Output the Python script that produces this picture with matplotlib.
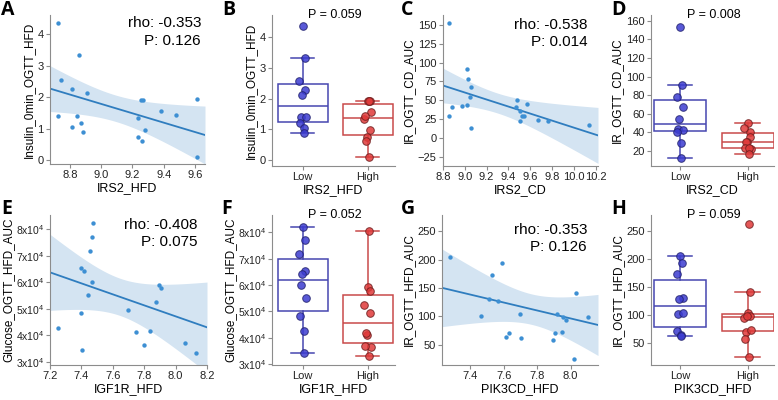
import numpy as np
import matplotlib
matplotlib.use("Agg")
import matplotlib.pyplot as plt
from matplotlib.ticker import FuncFormatter

plt.rcParams['font.family'] = ['Liberation Sans', 'DejaVu Sans']
plt.rcParams['mathtext.fontset'] = 'custom'
plt.rcParams['mathtext.rm'] = 'Liberation Sans'
plt.rcParams['mathtext.it'] = 'Liberation Sans'

# values (one row per mouse, 20 mice)
irs2_hfd = [8.725, 8.855, 8.741, 8.813, 8.909, 8.725, 8.847, 8.868, 8.811, 8.881,
            9.252, 9.266, 9.234, 9.281, 9.237, 9.264, 9.383, 9.479, 9.610, 9.612]
insulin_0min = [4.37, 3.33, 2.56, 2.27, 2.12, 1.41, 1.40, 1.19, 1.05, 0.89,
                1.91, 1.92, 1.33, 0.97, 0.74, 0.60, 1.57, 1.42, 1.93, 0.09]

irs2_cd = [8.858, 9.024, 9.027, 9.058, 9.043, 9.021, 8.978, 8.886, 8.855, 9.058,
           9.476, 9.466, 9.568, 9.510, 9.525, 9.544, 9.510, 9.669, 9.765, 10.14]
ir_cd_auc = [153, 91, 78, 67, 54, 44, 42.5, 40.7, 28.8, 12.8,
             50, 41, 44.7, 35.4, 29.6, 29.6, 22.6, 23.5, 23, 16.8]

igf1r_hfd = [7.472, 7.465, 7.455, 7.398, 7.415, 7.465, 7.440, 7.400, 7.253, 7.402,
             7.895, 7.907, 7.874, 7.697, 7.745, 7.834, 7.800, 8.063, 8.131, 7.800]
glucose_auc = [82100, 77000, 71700, 65200, 64100, 60000, 55100, 48300, 42700, 34300,
               59100, 57700, 52500, 49500, 41200, 41700, 36500, 36900, 33300, 80500]

pik3cd_hfd = [7.281, 7.589, 7.530, 7.513, 7.565, 7.462, 7.700, 7.633, 7.613, 7.703,
              7.918, 7.955, 7.973, 8.031, 8.106, 7.907, 7.947, 7.897, 8.019, 8.000]
ir_hfd_auc = [205.5, 193.4, 172.5, 129.8, 127.5, 100.9, 103.8, 71.4, 63.9, 62.1,
              103.5, 98, 93.9, 141.3, 98.6, 69.7, 72.5, 57.5, 25.1, 262]

corr_text = ["rho: -0.353\nP: 0.126", "rho: -0.538\nP: 0.014",
             "rho: -0.408\nP: 0.075", "rho: -0.353\nP: 0.126"]
box_pvals = ["P = 0.059", "P = 0.008", "P = 0.052", "P = 0.059"]
group_names = ["Low", "High"]

W, H = 778, 400
fig = plt.figure(figsize=(W / 100, H / 100), dpi=100)


def add_ax(l, t, r, b):
    return fig.add_axes([l / W, 1 - b / H, (r - l) / W, (b - t) / H])


def style(ax):
    for s in ['top', 'right']:
        ax.spines[s].set_visible(False)
    for s in ['left', 'bottom']:
        ax.spines[s].set_color('#8c8c8c')
        ax.spines[s].set_linewidth(0.8)
    ax.tick_params(colors='#8c8c8c', labelcolor='#222222', labelsize=8, length=3,
                   width=0.8, pad=1.5)


sci = FuncFormatter(lambda v, p: r"%dx10$^{4}$" % round(v / 1e4))


def labels(ax, xlabel, ylabel):
    ax.set_xlabel(xlabel, fontsize=9, labelpad=1)
    ax.set_ylabel(ylabel, fontsize=8.5, labelpad=2)


def scatter_panel(ax, x, y, xlim, ylim, xticks, yticks, xlabel, ylabel, txt, tx, ty):
    x = np.array(x, float)
    y = np.array(y, float)
    ax.set_xlim(xlim)
    ax.set_ylim(ylim)
    n = len(x)
    b, a = np.polyfit(x, y, 1)
    xs = np.linspace(xlim[0], xlim[1], 100)
    fit = a + b * xs
    resid = y - (a + b * x)
    s = np.sqrt(np.sum(resid ** 2) / (n - 2))
    sxx = np.sum((x - x.mean()) ** 2)
    t_crit = 2.101  # t(0.975, df=18)
    se = s * np.sqrt(1 / n + (xs - x.mean()) ** 2 / sxx)
    ax.fill_between(xs, fit - t_crit * se, fit + t_crit * se, color='#d4e4f2', lw=0, zorder=1)
    ax.plot(xs, fit, color='#2f7dbf', lw=1.3, zorder=2)
    ax.scatter(x, y, s=10, color='#3d8fd3', lw=0, zorder=3)
    ax.set_xticks(xticks)
    ax.set_yticks(yticks)
    labels(ax, xlabel, ylabel)
    ax.text(tx, ty, txt, transform=ax.transAxes, ha='right', va='top', fontsize=11,
            linespacing=1.3, zorder=5,
            bbox=dict(boxstyle='square,pad=0.1', fc='white', ec='none'))
    style(ax)


def box_panel(ax, x, y, xlim, ylim, yticks, xlabel, ylabel, ptxt):
    x = np.array(x, float)
    y = np.array(y, float)
    med = np.median(x)
    groups = [y[x <= med], y[x > med]]
    edge = ['#4646b0', '#c94a4a']
    fill = ['#3c3cd0', '#e03a3a']
    dark = ['#22226e', '#6e1e1e']
    for i, g in enumerate(groups):
        bp = ax.boxplot([g], positions=[i], widths=0.77, showfliers=False,
                        patch_artist=True, capwidths=0.36)
        for el in ['boxes', 'whiskers', 'caps', 'medians']:
            for art in bp[el]:
                art.set_color(edge[i])
                art.set_linewidth(1.1)
        for art in bp['boxes']:
            art.set_facecolor('white')
            art.set_edgecolor(edge[i])
        offs = 0.05 * np.sin(np.arange(len(g)) * 2.4)
        ax.scatter(i + offs, g, s=30, color=fill[i], edgecolor=dark[i], lw=0.7,
                   alpha=0.85, zorder=4)
    ax.set_xlim(xlim)
    ax.set_ylim(ylim)
    ax.set_xticks([0, 1])
    ax.set_xticklabels(group_names)
    ax.set_yticks(yticks)
    labels(ax, xlabel, ylabel)
    ax.text(0.5, ylim[1], ptxt, ha='center', va='center', fontsize=9, zorder=5)
    style(ax)


axA = add_ax(50, 15, 205, 164)
scatter_panel(axA, irs2_hfd, insulin_0min, (8.672, 9.664), (-0.12, 4.61),
              [8.8, 9.0, 9.2, 9.4, 9.6], [0, 1, 2, 3, 4], "IRS2_HFD",
              "Insulin_0min_OGTT_HFD", corr_text[0], 0.975, 0.99)

axB = add_ax(272, 15, 395, 166)
box_panel(axB, irs2_hfd, insulin_0min, (-0.47, 1.42), (-0.2, 4.73), [0, 1, 2, 3, 4],
          "IRS2_HFD", "Insulin_0min_OGTT_HFD", box_pvals[0])

axC = add_ax(443, 15, 598, 166)
scatter_panel(axC, irs2_cd, ir_cd_auc, (8.8, 10.22), (-37, 163),
              [8.8, 9.0, 9.2, 9.4, 9.6, 9.8, 10.0, 10.2], [-25, 0, 25, 50, 75, 100, 125, 150],
              "IRS2_CD", "IR_OGTT_CD_AUC", corr_text[1], 0.93, 0.98)

axD = add_ax(651, 15, 774, 166)
box_panel(axD, irs2_cd, ir_cd_auc, (-0.43, 1.39), (4, 166), [20, 40, 60, 80, 100, 120, 140, 160],
          "IRS2_CD", "IR_OGTT_CD_AUC", box_pvals[1])

axE = add_ax(50, 215, 207, 365)
scatter_panel(axE, igf1r_hfd, glucose_auc, (7.2, 8.2), (28800, 85300),
              [7.2, 7.4, 7.6, 7.8, 8.0, 8.2], [30000, 40000, 50000, 60000, 70000, 80000],
              "IGF1R_HFD", "Glucose_OGTT_HFD_AUC", corr_text[2], 0.94, 0.98)
axE.yaxis.set_major_formatter(sci)
axE.tick_params(axis='y', labelsize=7.5, pad=1)
axE.yaxis.labelpad = 1

axF = add_ax(272, 215, 395, 365)
box_panel(axF, igf1r_hfd, glucose_auc, (-0.47, 1.42), (29700, 86600),
          [30000, 40000, 50000, 60000, 70000, 80000],
          "IGF1R_HFD", "Glucose_OGTT_HFD_AUC", box_pvals[2])
axF.yaxis.set_major_formatter(sci)
axF.tick_params(axis='y', labelsize=7.5, pad=1)
axF.yaxis.labelpad = 1

axG = add_ax(442, 215, 598, 365)
scatter_panel(axG, pik3cd_hfd, ir_hfd_auc, (7.231, 8.164), (14, 279),
              [7.4, 7.6, 7.8, 8.0], [50, 100, 150, 200, 250],
              "PIK3CD_HFD", "IR_OGTT_HFD_AUC", corr_text[3], 0.93, 0.95)

axH = add_ax(651, 215, 774, 365)
box_panel(axH, pik3cd_hfd, ir_hfd_auc, (-0.43, 1.39), (10, 279), [50, 100, 150, 200, 250],
          "PIK3CD_HFD", "IR_OGTT_HFD_AUC", box_pvals[3])

letters = ["A", "B", "C", "D", "E", "F", "G", "H"]
letter_xy = [(1, 0), (222, 0), (401, 0), (611, 0), (1, 199), (221, 199), (401, 199), (611, 199)]
for lab, (lx, ly) in zip(letters, letter_xy):
    fig.text(lx / W, 1 - ly / H, lab, ha='left', va='top', fontsize=14,
             fontweight='bold', family=['Open Sans', 'DejaVu Sans'])

fig.savefig("out.png", dpi=100)
